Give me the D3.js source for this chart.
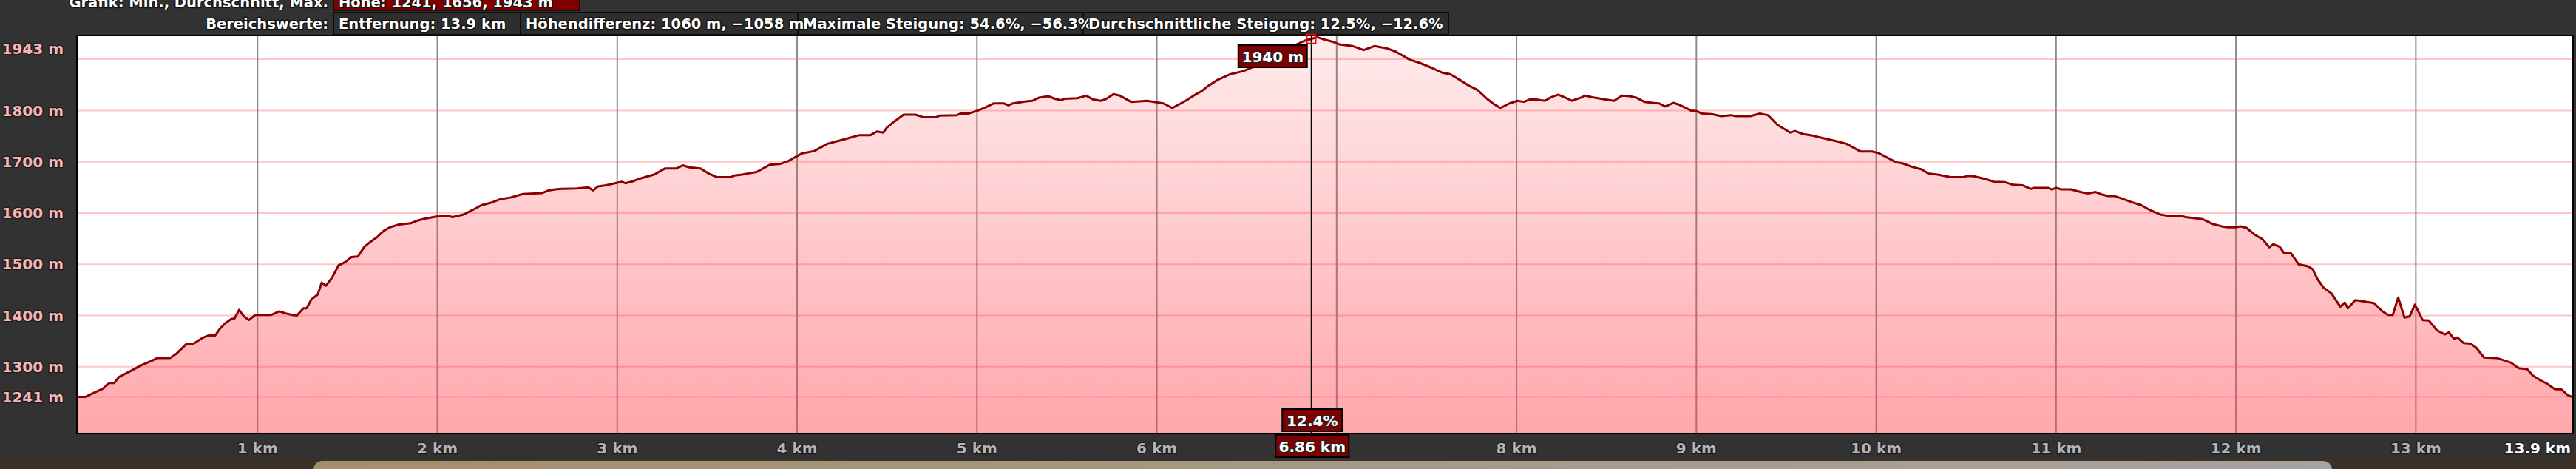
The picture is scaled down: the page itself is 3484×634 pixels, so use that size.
<!DOCTYPE html>
<html>
<head>
<meta charset="utf-8">
<script src="https://cdn.jsdelivr.net/npm/d3@7"></script>
<style>
  body { margin: 0; background: #3a3226; }
  svg { display: block; }
  text { font-family: "DejaVu Sans", sans-serif; font-weight: bold; paint-order: stroke; stroke-linejoin: round; }
</style>
</head>
<body>
<script>
// Elevation profile (km / m)
const distKm = [0, 0.043, 0.078, 0.141, 0.176, 0.203, 0.230, 0.292, 0.355, 0.408, 0.444, 0.515, 0.551, 0.604, 0.640, 0.667, 0.693, 0.729, 0.765, 0.791, 0.818, 0.854, 0.872, 0.898, 0.925, 0.952, 0.988, 1.077, 1.121, 1.157, 1.193, 1.219, 1.255, 1.273, 1.299, 1.335, 1.357, 1.380, 1.415, 1.451, 1.487, 1.522, 1.558, 1.594, 1.629, 1.665, 1.701, 1.736, 1.781, 1.852, 1.888, 1.932, 1.995, 2.066, 2.084, 2.146, 2.191, 2.244, 2.298, 2.351, 2.405, 2.476, 2.583, 2.619, 2.654, 2.690, 2.775,
  2.840, 2.866, 2.893, 2.938, 3.000, 3.027, 3.045, 3.089, 3.125, 3.205, 3.267, 3.330, 3.365, 3.401, 3.463, 3.508, 3.553, 3.633, 3.651, 3.695, 3.740, 3.775, 3.847, 3.909, 3.954, 4.025, 4.096, 4.168, 4.221, 4.275, 4.346, 4.408, 4.444, 4.480, 4.497, 4.542, 4.592, 4.658, 4.702, 4.774, 4.791, 4.889, 4.907, 4.952, 5.005, 5.041, 5.094, 5.148, 5.175, 5.201, 5.273, 5.308, 5.344, 5.398, 5.433, 5.469, 5.487, 5.558,
  5.608, 5.643, 5.688, 5.715, 5.759, 5.795, 5.857, 5.947, 6.036, 6.086, 6.160, 6.223, 6.250, 6.285, 6.339, 6.410, 6.481, 6.535, 6.570, 6.640, 6.710, 6.784, 6.820, 6.861, 6.891, 6.927, 6.989, 7.016, 7.087, 7.150, 7.212, 7.283, 7.328, 7.408, 7.462, 7.524, 7.586, 7.631, 7.684, 7.738, 7.783, 7.836, 7.872, 7.911, 7.961, 8.005, 8.041, 8.077, 8.121, 8.157, 8.193, 8.232, 8.273, 8.308,
  8.364, 8.381, 8.435, 8.488, 8.542, 8.586, 8.631, 8.667, 8.711, 8.756, 8.791, 8.827, 8.872, 8.907, 8.970, 9.000, 9.032, 9.086, 9.139, 9.193, 9.219, 9.299, 9.353, 9.398, 9.451, 9.522, 9.549, 9.594, 9.647, 9.718, 9.781, 9.834, 9.914, 9.977, 10.012, 10.111, 10.146, 10.200, 10.253, 10.289, 10.342, 10.414, 10.485, 10.503, 10.538, 10.610, 10.654, 10.717, 10.761, 10.815, 10.859, 10.877, 10.957, 10.975, 11.002, 11.029, 11.082, 11.135,
  11.177, 11.220, 11.255, 11.290, 11.325, 11.360, 11.413, 11.474, 11.526, 11.579, 11.614, 11.701, 11.719, 11.762, 11.815, 11.867, 11.920, 11.955, 12.002, 12.024, 12.059, 12.103, 12.147, 12.185, 12.208, 12.243, 12.269, 12.304, 12.348, 12.400, 12.427, 12.453, 12.488, 12.531, 12.580, 12.605, 12.622, 12.663, 12.698, 12.767, 12.811, 12.846, 12.872, 12.902, 12.937, 12.965, 12.995, 13.038, 13.073, 13.117, 13.161, 13.184, 13.213, 13.231, 13.266, 13.304, 13.336, 13.379, 13.449, 13.493, 13.528, 13.572, 13.619, 13.650, 13.694, 13.729, 13.773, 13.808, 13.843, 13.869];

const elevM = [1241, 1241, 1247, 1257, 1268, 1268, 1280, 1291, 1303, 1311, 1317, 1317, 1326, 1344, 1344, 1350, 1356, 1361, 1361, 1374, 1384, 1393, 1394, 1411, 1398, 1391, 1401, 1401, 1408, 1404, 1401, 1400, 1414, 1414, 1431, 1441, 1464, 1458, 1474, 1498, 1504, 1514, 1515, 1534, 1544, 1553, 1565, 1572, 1577, 1580, 1585, 1589, 1593, 1594, 1592, 1597, 1605, 1615, 1620, 1627, 1630, 1637, 1639, 1644, 1646, 1647, 1648,
  1650, 1644, 1652, 1654, 1659, 1661, 1658, 1662, 1667, 1675, 1687, 1687, 1693, 1689, 1687, 1677, 1670, 1670, 1673, 1675, 1678, 1680, 1694, 1696, 1702, 1716, 1721, 1735, 1740, 1745, 1752, 1752, 1759, 1757, 1766, 1779, 1792, 1792, 1787, 1787, 1790, 1791, 1794, 1794, 1800, 1805, 1814, 1814, 1810, 1814, 1818, 1819, 1825, 1828, 1823, 1820, 1823, 1824,
  1829, 1822, 1819, 1822, 1832, 1829, 1817, 1819, 1814, 1805, 1819, 1833, 1838, 1848, 1860, 1871, 1877, 1885, 1893, 1905, 1920, 1930, 1936, 1940, 1943, 1939, 1933, 1929, 1926, 1918, 1926, 1921, 1915, 1899, 1893, 1884, 1874, 1871, 1860, 1848, 1840, 1823, 1813, 1805, 1814, 1819, 1817, 1822, 1821, 1819, 1826, 1831, 1825, 1819,
  1826, 1829, 1825, 1822, 1819, 1829, 1828, 1825, 1817, 1815, 1814, 1808, 1815, 1811, 1800, 1799, 1794, 1793, 1789, 1791, 1789, 1789, 1794, 1791, 1772, 1757, 1760, 1754, 1751, 1745, 1740, 1735, 1720, 1720, 1717, 1699, 1697, 1690, 1685, 1677, 1675, 1670, 1670, 1672, 1672, 1666, 1661, 1660, 1655, 1654, 1647, 1649, 1649, 1646, 1649, 1646, 1646, 1641,
  1638, 1641, 1636, 1633, 1633, 1629, 1622, 1615, 1605, 1597, 1595, 1594, 1592, 1590, 1588, 1579, 1574, 1572, 1572, 1574, 1571, 1558, 1549, 1533, 1539, 1534, 1521, 1522, 1500, 1496, 1490, 1471, 1454, 1443, 1417, 1425, 1414, 1430, 1428, 1424, 1409, 1401, 1401, 1435, 1396, 1398, 1421, 1391, 1390, 1371, 1363, 1367, 1354, 1357, 1346, 1345, 1337, 1318, 1317, 1312, 1308, 1297, 1295, 1283, 1273, 1267, 1256, 1256, 1245, 1241];

const yTicks = [1943, 1800, 1700, 1600, 1500, 1400, 1300, 1241];
const xTicks = [1, 2, 3, 4, 5, 6, 7, 8, 9, 10, 11, 12, 13];
const totalKm = 13.87;
const totalLabel = "13.9 km";

const summaryLabel = "Grafik: Min., Durchschnitt, Max.";
const summaryValue = "Höhe: 1241, 1656, 1943 m";
const rangeLabel = "Bereichswerte:";
const rangeValues = ["Entfernung: 13.9 km", "Höhendifferenz: 1060 m, −1058 m", "Maximale Steigung: 54.6%, −56.3%", "Durchschnittliche Steigung: 12.5%, −12.6%"];

const cursorKm = 6.86;
const cursorElev = 1940;
const cursorGrade = "12.4%";

const W = 3484, H = 634;
const plot = { left: 105, right: 3479, top: 49, bottom: 585 };

const svg = d3.select("body").append("svg")
  .attr("width", W)
  .attr("height", H);

// map strip under the panel
svg.append("rect").attr("x", 0).attr("y", 0).attr("width", W).attr("height", H).attr("fill", "#3a3226");
const defs = svg.append("defs");
const strip = defs.append("linearGradient").attr("id", "strip");
strip.append("stop").attr("offset", 0).attr("stop-color", "#a48e6c");
strip.append("stop").attr("offset", 1).attr("stop-color", "#a8a2a0");
svg.append("rect").attr("x", 424).attr("y", 623).attr("width", 2730).attr("height", 40)
  .attr("rx", 12).attr("fill", "url(#strip)");

// dark panel
svg.append("rect").attr("x", 0).attr("y", -20).attr("width", W).attr("height", 640)
  .attr("rx", 14).attr("fill", "#323232");

// scales
const x = d3.scaleLinear().domain([0, totalKm]).range([plot.left, plot.right]);
const y = d3.scaleLinear().domain([1171, 1945]).range([plot.bottom, plot.top]);

const data = distKm.map((d, i) => ({ km: d, m: elevM[i] }));

// plot background
svg.append("rect")
  .attr("x", plot.left).attr("y", plot.top)
  .attr("width", plot.right - plot.left).attr("height", plot.bottom - plot.top)
  .attr("fill", "#ffffff");

// top tick is pushed down a bit so its label stays inside
const gridY = v => Math.max(y(v), plot.top + 31);
const labelY = v => Math.max(y(v), plot.top + 17);

svg.append("g").selectAll("line")
  .data(yTicks)
  .join("line")
  .attr("x1", plot.left).attr("x2", plot.right)
  .attr("y1", d => gridY(d)).attr("y2", d => gridY(d))
  .attr("stroke", "#ffc6c8")
  .attr("stroke-width", 2);

svg.append("g").selectAll("line")
  .data(xTicks)
  .join("line")
  .attr("x1", d => x(d)).attr("x2", d => x(d))
  .attr("y1", plot.top).attr("y2", plot.bottom)
  .attr("stroke", "#8c8c8c")
  .attr("stroke-width", 2);

// area + line
const grad = defs.append("linearGradient").attr("id", "fillGrad")
  .attr("gradientUnits", "userSpaceOnUse")
  .attr("x1", 0).attr("x2", 0).attr("y1", plot.top).attr("y2", plot.bottom);
grad.append("stop").attr("offset", 0).attr("stop-color", "#ff3c46").attr("stop-opacity", 0.1);
grad.append("stop").attr("offset", 1).attr("stop-color", "#ff3c46").attr("stop-opacity", 0.45);

svg.append("path")
  .datum(data)
  .attr("fill", "url(#fillGrad)")
  .attr("d", d3.area().x(d => x(d.km)).y0(plot.bottom).y1(d => y(d.m)));

svg.append("path")
  .datum(data)
  .attr("fill", "none")
  .attr("stroke", "#8b0000")
  .attr("stroke-width", 3)
  .attr("stroke-linejoin", "round")
  .attr("d", d3.line().x(d => x(d.km)).y(d => y(d.m)));

// plot frame
svg.append("rect")
  .attr("x", plot.left - 1).attr("y", plot.top - 1)
  .attr("width", plot.right - plot.left + 2).attr("height", plot.bottom - plot.top + 2)
  .attr("fill", "none").attr("stroke", "#000").attr("stroke-width", 2);

// y labels
svg.append("g").selectAll("text")
  .data(yTicks)
  .join("text")
  .attr("x", 86)
  .attr("y", d => labelY(d))
  .attr("dy", "0.36em")
  .attr("text-anchor", "end")
  .attr("font-size", 20)
  .attr("fill", "#f9b4b4")
  .attr("stroke", "#1c1c1c").attr("stroke-width", 2.5)
  .text(d => d + " m");

// x labels (the one under the cursor tag is covered by it)
const cx = x(cursorKm);
svg.append("g").selectAll("text")
  .data(xTicks.filter(d => Math.abs(x(d) - cx) > 80))
  .join("text")
  .attr("x", d => x(d))
  .attr("y", 613)
  .attr("text-anchor", "middle")
  .attr("font-size", 20)
  .attr("fill", "#b4b4b4")
  .attr("stroke", "#1c1c1c").attr("stroke-width", 2.5)
  .text(d => d + " km");

svg.append("text")
  .attr("x", plot.right - 2).attr("y", 613)
  .attr("text-anchor", "end")
  .attr("font-size", 20)
  .attr("fill", "#ffffff")
  .attr("stroke", "#1c1c1c").attr("stroke-width", 2.5)
  .text(totalLabel);

// header
const head = svg.append("g").attr("font-size", 19.5);
head.append("text").attr("x", 444).attr("y", 10).attr("text-anchor", "end")
  .attr("fill", "#fff").attr("stroke", "#111").attr("stroke-width", 2.5).text(summaryLabel);
head.append("rect").attr("x", 451).attr("y", -4).attr("width", 333).attr("height", 18)
  .attr("fill", "#800000").attr("stroke", "#111").attr("stroke-width", 2);
head.append("text").attr("x", 458).attr("y", 10)
  .attr("fill", "#fff").attr("stroke", "#111").attr("stroke-width", 2.5).text(summaryValue);

head.append("text").attr("x", 444).attr("y", 39).attr("text-anchor", "end")
  .attr("fill", "#fff").attr("stroke", "#111").attr("stroke-width", 2.5).text(rangeLabel);

const boxEdges = [451, 704, 1079, 1465, 1959];
rangeValues.forEach((t, i) => {
  head.append("rect")
    .attr("x", boxEdges[i]).attr("y", 17)
    .attr("width", boxEdges[i + 1] - boxEdges[i]).attr("height", 30)
    .attr("fill", "#2e2e2e").attr("stroke", "#0c0c0c").attr("stroke-width", 2);
});
rangeValues.forEach((t, i) => {
  head.append("text").attr("x", boxEdges[i] + 7).attr("y", 39)
    .attr("fill", "#fff").attr("stroke", "#111").attr("stroke-width", 2.5).text(t);
});

// cursor
svg.append("line")
  .attr("x1", cx).attr("x2", cx)
  .attr("y1", plot.top).attr("y2", 590)
  .attr("stroke", "#000").attr("stroke-width", 2);

svg.append("rect")
  .attr("x", cx - 6).attr("y", y(cursorElev) - 6)
  .attr("width", 12).attr("height", 12)
  .attr("fill", "none").attr("stroke", "#ff0000").attr("stroke-width", 1.5);

function tag(cxPos, yTop, w, label, anchor) {
  const g = svg.append("g");
  const left = anchor === "right" ? cxPos - w : cxPos - w / 2;
  g.append("rect").attr("x", left).attr("y", yTop).attr("width", w).attr("height", 30)
    .attr("fill", "#7f0000").attr("stroke", "#000").attr("stroke-width", 2);
  g.append("text").attr("x", left + w / 2).attr("y", yTop + 23)
    .attr("text-anchor", "middle").attr("font-size", 20)
    .attr("fill", "#fff").attr("stroke", "#222").attr("stroke-width", 2.5)
    .text(label);
}
tag(cx - 6, 61, 93, cursorElev + " m", "right");
tag(cx + 1, 553, 81, cursorGrade, "center");
tag(cx + 1, 588, 99, cursorKm.toFixed(2) + " km", "center");
</script>
</body>
</html>
